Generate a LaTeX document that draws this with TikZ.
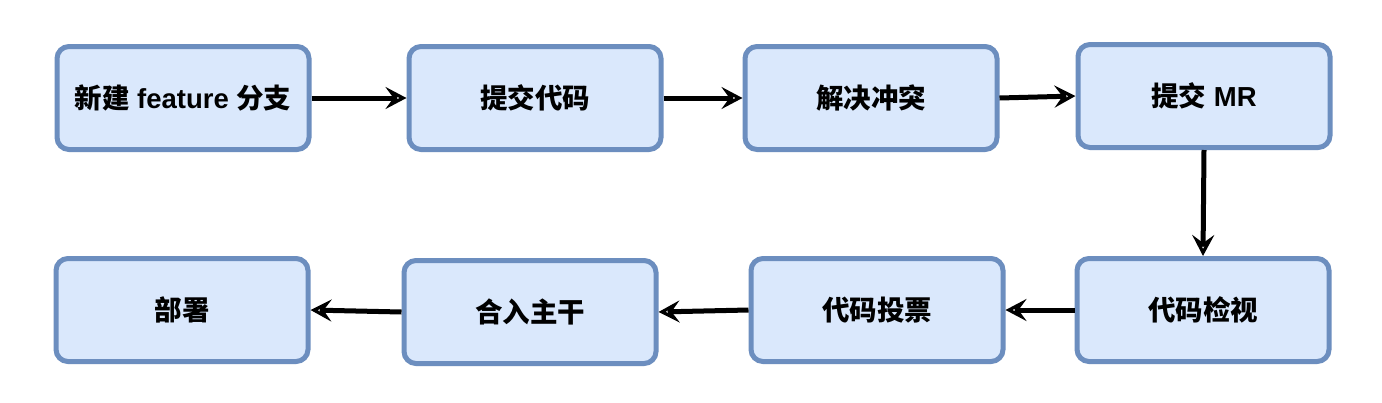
\documentclass[tikz,border=0pt]{standalone}
\usepackage{fontspec}
\setmainfont{Liberation Sans}
\newfontfamily\cjk{Noto Sans CJK SC}
\usetikzlibrary{arrows.meta}
\definecolor{boxfill}{HTML}{DAE8FC}
\definecolor{boxline}{HTML}{6C8EBF}
\begin{document}
\begin{tikzpicture}[x=1pt,y=-1pt,
  box/.style={draw=boxline, fill=boxfill, line width=5pt, rounded corners=12pt,
    minimum width=252pt, minimum height=103pt, inner sep=0pt,
    font=\fontsize{27.5}{32}\selectfont\bfseries},
  sketch/.style={draw=boxline, line width=2.5pt, rounded corners=13pt},
  flow/.style={line width=5pt, black,
    -{Stealth[open, length=21pt, width=22pt, inset=8pt, line width=4pt]}}]
\fill[white] (0,0) rectangle (1382,402);
\useasboundingbox (0,0) rectangle (1382,402);
\node[box] (b1) at (183,98)  {{\cjk 新建} feature {\cjk 分支}};
\node[box] (b2) at (535,98)  {\cjk 提交代码};
\node[box] (b3) at (871,98)  {\cjk 解决冲突};
\node[box] (b4) at (1204,96) {{\cjk 提交} MR};
\node[box] (b5) at (1203,310) {\cjk 代码检视};
\node[box] (b6) at (877,310) {\cjk 代码投票};
\node[box] (b7) at (530,312) {\cjk 合入主干};
\node[box] (b8) at (182,310) {\cjk 部署};
\foreach \n in {b1,b2,b3,b4,b5,b6,b7,b8}{
  \draw[sketch] ([shift={(3,1.5)}]\n.north west) rectangle ([shift={(-2,-2.5)}]\n.south east);
}
\draw[flow] (b1.east) -- (b2.west);
\draw[flow] (b2.east) -- (b3.west);
\draw[flow] (b3.east) -- (b4.west);
\draw[flow] (b4.south) -- (b5.north);
\draw[flow] (b5.west) -- (b6.east);
\draw[flow] (b6.west) -- (b7.east);
\draw[flow] (b7.west) -- (b8.east);
\end{tikzpicture}
\end{document}
